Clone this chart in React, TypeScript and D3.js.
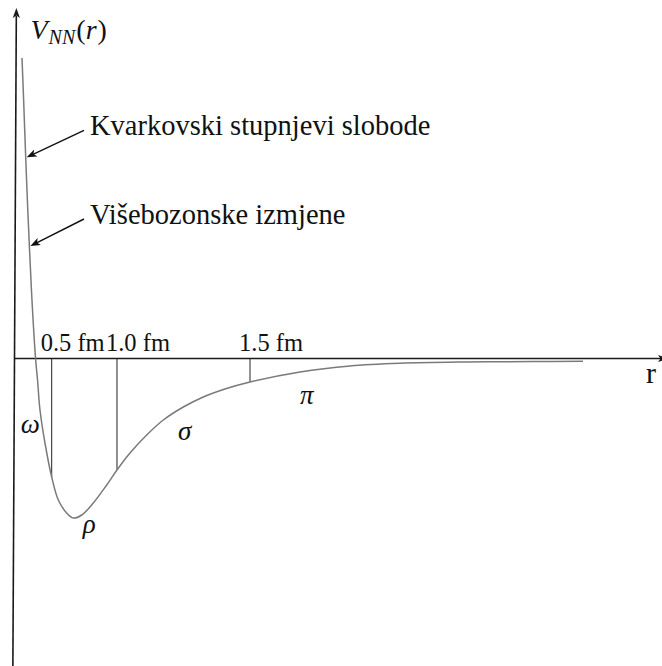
import { useEffect, useRef } from "react";
import * as d3 from "d3";

// potential curve, schematic units (r along the axis, V up)
const rValues = [0.116, 0.141, 0.173, 0.199, 0.229, 0.27, 0.325, 0.356, 0.394, 0.471, 0.575, 0.677, 0.807, 0.909, 1.039, 1.218, 1.425, 1.584, 1.785, 2.043, 2.3, 2.609, 2.918, 3.253, 3.64, 4.413, 5.185, 5.958, 6.989, 8.014, 8.787];
const vValues = [3.005, 2.585, 2.015, 1.585, 1.135, 0.585, 0.005, -0.215, -0.515, -0.845, -1.185, -1.415, -1.545, -1.595, -1.565, -1.445, -1.265, -1.115, -0.945, -0.765, -0.615, -0.485, -0.385, -0.305, -0.235, -0.135, -0.075, -0.048, -0.035, -0.03, -0.028];

// distance markers
const tickR = [0.575, 1.584, 3.64];
const tickLabels = ["0.5 fm", "1.0 fm", "1.5 fm"];

// arrows pointing at the repulsive core
const noteLabels = ["Kvarkovski stupnjevi slobode", "Višebozonske izmjene"];
const noteV = [2.012, 1.125];

// exchanged mesons
const mesonNames = ["ω", "ρ", "σ", "π"];
const mesonR = [0.096, 1.054, 2.527, 4.413];
const mesonV = [-0.745, -1.745, -0.815, -0.455];

const FONT = "'Liberation Serif', 'Times New Roman', serif";

function App() {
  const svgRef = useRef(null);

  const width = 662;
  const height = 666;

  useEffect(() => {
    const svg = d3.select(svgRef.current);
    svg.selectAll("*").remove();

    const x = d3.scaleLinear().domain([0, 10]).range([14.5, 661.5]);
    const y = d3.scaleLinear().domain([-3.075, 3.485]).range([height, 10]);

    const pts = rValues.map((r, i) => [r, vValues[i]]);

    // V at given r, along the curve
    const vAt = (r) => {
      for (let i = 1; i < pts.length; i++) {
        if (r <= pts[i][0]) {
          const t = (r - pts[i - 1][0]) / (pts[i][0] - pts[i - 1][0]);
          return pts[i - 1][1] + t * (pts[i][1] - pts[i - 1][1]);
        }
      }
      return pts[pts.length - 1][1];
    };
    // r at given V, on the steep left branch
    const rAt = (v) => {
      for (let i = 1; i < pts.length; i++) {
        if (v >= pts[i][1]) {
          const t = (v - pts[i - 1][1]) / (pts[i][1] - pts[i - 1][1]);
          return pts[i - 1][0] + t * (pts[i][0] - pts[i - 1][0]);
        }
      }
      return pts[0][0];
    };

    const arrowHead = (tx, ty, ang, len, half) => {
      const bx = tx - len * Math.cos(ang);
      const by = ty - len * Math.sin(ang);
      const nx = -Math.sin(ang) * half;
      const ny = Math.cos(ang) * half;
      return `M${tx},${ty}L${bx + nx},${by + ny}L${bx + len * 0.25 * Math.cos(ang)},${by + len * 0.25 * Math.sin(ang)}L${bx - nx},${by - ny}Z`;
    };

    const y0 = y(0);
    const x0 = x(0);

    // axes (the vertical one leans slightly, as in the scan)
    const tilt = 0.0053;
    svg.append("line")
      .attr("x1", x0 - (height - y0) * tilt).attr("y1", height)
      .attr("x2", x0 + (y0 - 16) * tilt).attr("y2", 16)
      .attr("stroke", "#1a1a1a").attr("stroke-width", 1.6);
    svg.append("path")
      .attr("d", arrowHead(x0 + (y0 - 8) * tilt, 8, -Math.PI / 2, 10, 3.6))
      .attr("fill", "#1a1a1a");

    svg.append("line")
      .attr("x1", x0).attr("y1", y0)
      .attr("x2", 662).attr("y2", y0)
      .attr("stroke", "#1a1a1a").attr("stroke-width", 1.6);
    svg.append("path")
      .attr("d", arrowHead(668, y0, 0, 10, 3.6))
      .attr("fill", "#1a1a1a");

    // marker lines from the axis down to the curve
    svg.append("g")
      .selectAll("line")
      .data(tickR)
      .join("line")
      .attr("x1", (d) => x(d)).attr("x2", (d) => x(d))
      .attr("y1", y0).attr("y2", (d) => y(vAt(d)))
      .attr("stroke", "#222").attr("stroke-width", 1);

    svg.append("g")
      .selectAll("text")
      .data(tickLabels)
      .join("text")
      .attr("x", (d, i) => x(tickR[i]) - 11)
      .attr("y", y0 - 7.5)
      .attr("font-family", FONT)
      .attr("font-size", 24.5)
      .attr("fill", "#111")
      .style("white-space", "pre")
      .text((d) => d);

    // the potential
    const line = d3.line()
      .x((d) => x(d[0]))
      .y((d) => y(d[1]))
      .curve(d3.curveCatmullRom.alpha(0.5));
    svg.append("path")
      .attr("d", line(pts))
      .attr("fill", "none")
      .attr("stroke", "#7a7a7a")
      .attr("stroke-width", 1.5);

    // annotations
    const noteX = x(1.167);
    noteLabels.forEach((label, i) => {
      const tx = x(rAt(noteV[i])) + 1;
      const ty = y(noteV[i]);
      const baseY = ty - 22;
      const sx = noteX - 6;
      const sy = baseY - 5;
      const ang = Math.atan2(ty - sy, tx - sx);
      svg.append("line")
        .attr("x1", sx).attr("y1", sy)
        .attr("x2", tx - 7 * Math.cos(ang)).attr("y2", ty - 7 * Math.sin(ang))
        .attr("stroke", "#111").attr("stroke-width", 1.4);
      svg.append("path")
        .attr("d", arrowHead(tx, ty, ang, 10, 3.8))
        .attr("fill", "#111");
      svg.append("text")
        .attr("x", noteX)
        .attr("y", baseY)
        .attr("font-family", FONT)
        .attr("font-size", 28.5)
        .attr("fill", "#111")
        .text(label);
    });

    // meson labels
    svg.append("g")
      .selectAll("text")
      .data(mesonNames)
      .join("text")
      .attr("x", (d, i) => x(mesonR[i]))
      .attr("y", (d, i) => y(mesonV[i]))
      .attr("font-family", FONT)
      .attr("font-style", "italic")
      .attr("font-size", 27)
      .attr("fill", "#111")
      .text((d) => d);

    // axis titles
    const vt = svg.append("text")
      .attr("x", 30.5)
      .attr("y", 39)
      .attr("font-family", FONT)
      .attr("font-size", 28)
      .attr("fill", "#111");
    vt.append("tspan").attr("font-style", "italic").text("V");
    vt.append("tspan").attr("font-style", "italic").attr("font-size", 20).attr("dy", 5).attr("dx", 1).text("NN");
    vt.append("tspan").attr("dy", -5).attr("dx", 1).text("(");
    vt.append("tspan").attr("font-style", "italic").text("r");
    vt.append("tspan").attr("dx", 1).text(")");

    svg.append("text")
      .attr("x", 646)
      .attr("y", 383)
      .attr("font-family", FONT)
      .attr("font-size", 30)
      .attr("fill", "#111")
      .text("r");
  }, []);

  return (
    <div className="chartContainer">
      <svg
        ref={svgRef}
        width={width}
        height={height}
        viewBox={`0 0 ${width} ${height}`}
        style={{ position: "absolute", left: 0, top: 0, background: "#fff" }}
      ></svg>
    </div>
  );
}

export default App;
